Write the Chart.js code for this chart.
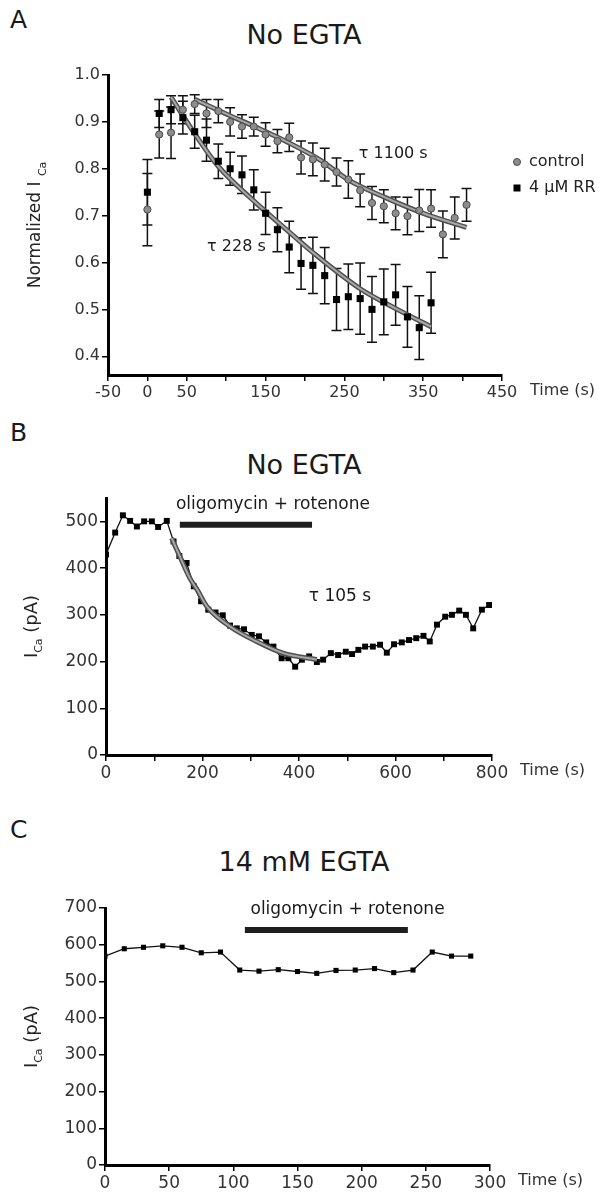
<!DOCTYPE html>
<html>
<head>
<meta charset="utf-8">
<script src="https://cdn.jsdelivr.net/npm/chart.js@4.4.1/dist/chart.umd.min.js"></script>
<style>
  body { margin: 0; background: #fff; width: 608px; height: 1199px; position: relative; overflow: hidden; font-family: "DejaVu Sans", sans-serif; color: #1a1a1a; }
  canvas { position: absolute; left: 0; }
  .letter { position: absolute; left: 10px; font-size: 25px; line-height: 28px; }
  .title { position: absolute; left: 0; width: 608px; text-align: center; font-size: 27px; line-height: 30px; }
</style>
</head>
<body>
<div class="letter" style="top:6px">A</div>
<div class="title" style="top:20px">No EGTA</div>
<div class="letter" style="top:419px">B</div>
<div class="title" style="top:450px">No EGTA</div>
<div class="letter" style="top:816px">C</div>
<div class="title" style="top:847px">14 mM EGTA</div>

<canvas id="chartA" width="608" height="420" style="top:0"></canvas>
<canvas id="chartB" width="608" height="420" style="top:420px"></canvas>
<canvas id="chartC" width="608" height="359" style="top:840px"></canvas>

<script>
var FONT = '"DejaVu Sans", sans-serif';

// ---- A: normalized I_Ca, control vs 4 uM RR
var ctrlTimeA = [0,15,30,45,60,75,90,105,120,135,150,165,180,195,210,225,240,255,270,285,300,315,330,345,360,375,390,405];
var ctrlA     = [0.713,0.873,0.877,0.926,0.938,0.918,0.923,0.900,0.890,0.890,0.873,0.859,0.867,0.824,0.820,0.809,0.793,0.777,0.754,0.727,0.720,0.705,0.699,0.711,0.715,0.660,0.695,0.723];
var ctrlErrA  = [0.077,0.05,0.055,0.03,0.02,0.03,0.025,0.03,0.025,0.02,0.025,0.025,0.03,0.035,0.035,0.035,0.03,0.04,0.035,0.035,0.035,0.035,0.04,0.045,0.04,0.05,0.045,0.035];
var rrTimeA   = [0,15,30,45,60,75,90,105,120,135,150,165,180,195,210,225,240,255,270,285,300,315,330,345,360];
var rrA       = [0.75,0.918,0.926,0.909,0.879,0.861,0.816,0.80,0.787,0.755,0.705,0.670,0.633,0.598,0.594,0.572,0.521,0.527,0.523,0.50,0.516,0.531,0.484,0.461,0.514];
var rrErrA    = [0.07,0.03,0.03,0.035,0.035,0.045,0.037,0.035,0.04,0.043,0.045,0.047,0.055,0.055,0.06,0.06,0.066,0.07,0.076,0.07,0.07,0.065,0.065,0.068,0.065];
var ctrlFitT  = [60,100,136,180,220,256,300,350,405];
var ctrlFitY  = [0.948,0.917,0.89,0.855,0.818,0.775,0.74,0.705,0.675];
var rrFitT    = [30,60,90,136,180,211,271,317,360];
var rrFitY    = [0.953,0.875,0.805,0.73,0.665,0.62,0.543,0.5,0.463];
var xLabelsA  = [-50,0,50,150,250,350,450];

// ---- B: I_Ca (pA), No EGTA
var timeB = [0,19,35,50,64,79,95,108,126,140,152,167,182,197,212,227,242,257,271,286,302,317,332,347,364,378,392,406,421,437,450,466,481,497,510,523,537,553,568,582,597,613,628,643,658,671,686,703,717,732,746,761,779,794];
var icaB  = [429,476,513,501,489,500,500,488,501,457,426,411,361,329,311,305,299,277,271,269,257,254,241,232,207,207,189,204,211,199,204,218,214,221,216,225,232,232,236,219,237,241,246,250,255,243,279,296,300,309,300,271,311,321];
var fitBT = [136,150,174,190,209,257,312,367,437];
var fitBY = [464,432,378,352,318,275,243,218,204];
var drugBT = [153,427];
var drugBY = [493,493];

// ---- C: I_Ca (pA), 14 mM EGTA
var timeC = [0,15,30,45,60,75,90,105,120,135,150,165,180,195,210,225,240,255,270,285];
var icaC  = [569,589,593,597,593,578,580,531,528,532,527,522,530,531,535,524,531,580,569,569];
var drugCT = [109,236];
var drugCY = [640,640];

function pts(xs, ys) {
  return xs.map(function (x, i) { return { x: x, y: ys[i] }; });
}

function axis(min, max, step, fitSize, horizontal, size, label) {
  return {
    type: 'linear', min: min, max: max,
    border: { color: '#000', width: 3 },
    grid: { drawOnChartArea: false, color: '#000', lineWidth: 1.5, tickLength: 6 },
    ticks: {
      stepSize: step, includeBounds: false, autoSkip: false, maxRotation: 0,
      color: '#333', padding: 2, font: { family: FONT, size: size },
      callback: label
    },
    afterFit: function (s) { if (horizontal) s.height = fitSize; else s.width = fitSize; }
  };
}

// error bars drawn through the y scale
var errorBars = {
  id: 'errorBars',
  beforeDatasetsDraw: function (chart) {
    var ctx = chart.ctx, ys = chart.scales.y;
    chart.data.datasets.forEach(function (ds, di) {
      if (!ds.errors) return;
      var meta = chart.getDatasetMeta(di);
      ctx.save();
      ctx.strokeStyle = '#111';
      ctx.lineWidth = 1.5;
      meta.data.forEach(function (p, i) {
        var v = ds.data[i].y, e = ds.errors[i];
        var y1 = ys.getPixelForValue(v + e), y2 = ys.getPixelForValue(v - e);
        ctx.beginPath();
        ctx.moveTo(p.x, y1); ctx.lineTo(p.x, y2);
        ctx.moveTo(p.x - 5, y1); ctx.lineTo(p.x + 5, y1);
        ctx.moveTo(p.x - 5, y2); ctx.lineTo(p.x + 5, y2);
        ctx.stroke();
      });
      ctx.restore();
    });
  }
};

// text notes placed in data space, y title with subscript, "Time (s)", legend
var extras = {
  id: 'extras',
  afterDraw: function (chart, args, o) {
    var ctx = chart.ctx, a = chart.chartArea, xs = chart.scales.x, ys = chart.scales.y;
    ctx.save();
    ctx.fillStyle = '#1a1a1a';
    (o.notes || []).forEach(function (n) {
      ctx.font = n.size + 'px ' + FONT;
      ctx.textAlign = 'center';
      ctx.textBaseline = 'middle';
      ctx.fillText(n.text, xs.getPixelForValue(n.x), ys.getPixelForValue(n.y));
    });

    ctx.textAlign = 'left';
    ctx.textBaseline = 'top';
    ctx.font = '16px ' + FONT;
    ctx.fillStyle = '#333';
    ctx.fillText('Time (s)', a.right + 28, a.bottom + 8);

    // rotated y title
    ctx.save();
    ctx.fillStyle = '#222';
    ctx.translate(o.titleX, (a.top + a.bottom) / 2);
    ctx.rotate(-Math.PI / 2);
    ctx.textBaseline = 'middle';
    var w = 0;
    o.title.forEach(function (p) {
      ctx.font = (p.sub ? 11 : o.titleSize) + 'px ' + FONT;
      w += ctx.measureText(p.t).width;
    });
    var x = -w / 2;
    o.title.forEach(function (p) {
      ctx.font = (p.sub ? 11 : o.titleSize) + 'px ' + FONT;
      ctx.fillText(p.t, x, p.sub ? o.titleSize * 0.4 : 0);
      x += ctx.measureText(p.t).width;
    });
    ctx.restore();

    if (o.legend) {
      ctx.font = '16px ' + FONT;
      ctx.textBaseline = 'middle';
      o.legend.forEach(function (l) {
        var ds = chart.data.datasets[l.ds];
        ctx.fillStyle = ds.backgroundColor;
        ctx.strokeStyle = ds.borderColor;
        if (ds.pointStyle === 'rect') {
          ctx.fillRect(l.x - 3.5, l.y - 3.5, 7, 7);
        } else {
          ctx.beginPath(); ctx.arc(l.x, l.y, 3.5, 0, Math.PI * 2); ctx.fill(); ctx.stroke();
        }
        ctx.fillStyle = '#222';
        ctx.fillText(ds.label, l.x + 12, l.y);
      });
    }
    ctx.restore();
  }
};

function fitSets(data) {
  return [
    { data: data, showLine: true, borderColor: '#a8a8a8', borderWidth: 2, pointRadius: 0, cubicInterpolationMode: 'monotone' },
    { data: data, showLine: true, borderColor: '#505050', borderWidth: 5, pointRadius: 0, cubicInterpolationMode: 'monotone' }
  ];
}

var base = {
  responsive: false,
  animation: false,
  events: [],
  plugins: { legend: { display: false }, tooltip: { enabled: false } }
};

function opts(extra, scales, padding) {
  var o = JSON.parse(JSON.stringify(base));
  o.plugins.extras = extra;
  o.scales = scales;
  o.layout = { padding: padding };
  return o;
}

// ---- A
var ctrlSet = { label: 'control', data: pts(ctrlTimeA, ctrlA), errors: ctrlErrA, showLine: false,
  pointStyle: 'circle', pointRadius: 3.6, backgroundColor: '#8c8c8c', borderColor: '#4a4a4a', borderWidth: 1 };
var rrSet = { label: '4 \u03bcM RR', data: pts(rrTimeA, rrA), errors: rrErrA, showLine: false,
  pointStyle: 'rect', pointRadius: 5, backgroundColor: '#000', borderColor: '#000', borderWidth: 0 };

new Chart(document.getElementById('chartA'), {
  type: 'scatter',
  data: { datasets: [ctrlSet, rrSet].concat(fitSets(pts(ctrlFitT, ctrlFitY)), fitSets(pts(rrFitT, rrFitY))) },
  options: opts(
    {
      titleX: 36, titleSize: 17,
      title: [{ t: 'Normalized I ' }, { t: 'Ca', sub: true }],
      notes: [{ text: '\u03c4 1100 s', x: 312, y: 0.832, size: 16 }, { text: '\u03c4 228 s', x: 113, y: 0.633, size: 16 }],
      legend: [{ ds: 0, x: 517, y: 162 }, { ds: 1, x: 517, y: 188 }]
    },
    {
      x: axis(-50, 450, 50, 30, true, 16, function (v) { return xLabelsA.indexOf(v) >= 0 ? String(v) : ''; }),
      y: axis(0.36, 1.0, 0.1, 108, false, 16, function (v) { return v.toFixed(1); })
    },
    { left: 0, top: 75, right: 106, bottom: 15 }
  ),
  plugins: [errorBars, extras]
});

// ---- B
var lineB = { data: pts(timeB, icaB), showLine: true, borderColor: '#111', borderWidth: 1.3,
  pointStyle: 'rect', pointRadius: 4.2, backgroundColor: '#000', pointBorderWidth: 0 };
var barB = { data: pts(drugBT, drugBY), showLine: true, borderColor: '#1e1e1e', borderWidth: 6, pointRadius: 0 };

new Chart(document.getElementById('chartB'), {
  type: 'scatter',
  data: { datasets: fitSets(pts(fitBT, fitBY)).concat([lineB, barB]) },
  options: opts(
    {
      titleX: 32, titleSize: 18,
      title: [{ t: 'I' }, { t: 'Ca', sub: true }, { t: ' (pA)' }],
      notes: [{ text: '\u03c4 105 s', x: 485, y: 339, size: 17 }, { text: 'oligomycin + rotenone', x: 346, y: 535, size: 17 }]
    },
    {
      x: axis(0, 800, 100, 30, true, 17, function (v) { return v % 200 === 0 ? String(v) : ''; }),
      y: axis(0, 550, 100, 106, false, 17, function (v) { return String(v); })
    },
    { left: 0, top: 78, right: 116, bottom: 55 }
  ),
  plugins: [extras]
});

// ---- C
var lineC = { data: pts(timeC, icaC), showLine: true, borderColor: '#111', borderWidth: 1.3,
  pointStyle: 'rect', pointRadius: 3.6, backgroundColor: '#000', pointBorderWidth: 0 };
var barC = { data: pts(drugCT, drugCY), showLine: true, borderColor: '#1e1e1e', borderWidth: 6, pointRadius: 0 };

new Chart(document.getElementById('chartC'), {
  type: 'scatter',
  data: { datasets: [lineC, barC] },
  options: opts(
    {
      titleX: 32, titleSize: 18,
      title: [{ t: 'I' }, { t: 'Ca', sub: true }, { t: ' (pA)' }],
      notes: [{ text: 'oligomycin + rotenone', x: 189, y: 695, size: 17 }]
    },
    {
      x: axis(0, 300, 50, 30, true, 17, function (v) { return String(v); }),
      y: axis(0, 700, 100, 105, false, 17, function (v) { return String(v); })
    },
    { left: 0, top: 68, right: 118, bottom: 4 }
  ),
  plugins: [extras]
});
</script>
</body>
</html>
